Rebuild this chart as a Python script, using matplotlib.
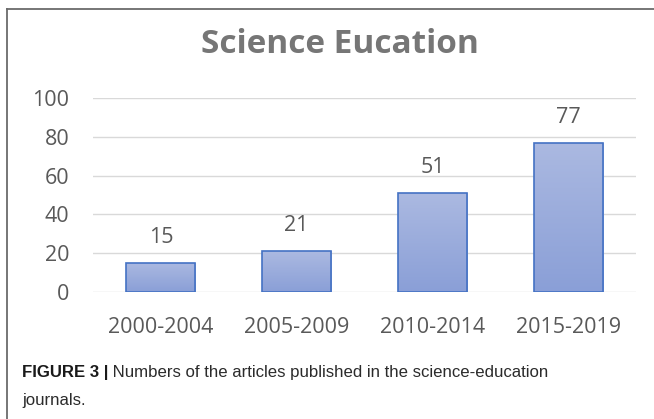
import numpy as np
import matplotlib
matplotlib.use("Agg")
import matplotlib.pyplot as plt
from matplotlib.lines import Line2D

# Article counts per five-year period
periods = ["2000-2004", "2005-2009", "2010-2014", "2015-2019"]
counts = [15, 21, 51, 77]
y_ticks = [0, 20, 40, 60, 80, 100]

title = "Science Eucation"
caption_bold = "FIGURE 3 |"
caption_rest = " Numbers of the articles published in the science-education"
caption_line2 = "journals."

W, H = 654, 419
fig = plt.figure(figsize=(W / 100, H / 100), dpi=100)
fig.patch.set_facecolor("white")

chart_font = "Open Sans"
label_color = "#595959"

ax = fig.add_axes([93 / W, 1 - 292 / H, (636 - 93) / W, (292 - 98) / H])
ax.set_xlim(-0.5, len(periods) - 0.5)
ax.set_ylim(0, 100)
ax.set_yticks(y_ticks)
ax.set_yticklabels([str(v) for v in y_ticks])
ax.set_xticks(range(len(periods)))
ax.set_xticklabels(periods)
for s in ax.spines.values():
    s.set_visible(False)
ax.tick_params(length=0, colors=label_color, labelsize=15.5)
ax.tick_params(axis="y", pad=17)
ax.tick_params(axis="x", pad=18)
for lab in ax.get_xticklabels() + ax.get_yticklabels():
    lab.set_fontfamily(chart_font)
ax.yaxis.grid(True, color="#d9d9d9", linewidth=1.0)
ax.set_axisbelow(True)

# Bars with a light-to-darker vertical gradient and a blue outline
bars = ax.bar(range(len(periods)), counts, width=0.51,
              facecolor="none", edgecolor="#4472c4", linewidth=1.2, zorder=3)
grad = np.linspace(0, 1, 256).reshape(-1, 1)
cmap = matplotlib.colors.LinearSegmentedColormap.from_list(
    "barfill", ["#8a9fd7", "#abb9e1"])
for b in bars:
    x0, y0 = b.get_x(), b.get_y()
    im = ax.imshow(grad, cmap=cmap, aspect="auto", origin="lower",
                   extent=[x0, x0 + b.get_width(), y0, y0 + b.get_height()],
                   zorder=2, interpolation="bilinear")
    im.set_clip_path(b)
ax.set_xlim(-0.5, len(periods) - 0.5)
ax.set_ylim(0, 100)

for i, v in enumerate(counts):
    ax.annotate(str(v), xy=(i, v), xytext=(0, 14.4), textcoords="offset points",
                ha="center", va="baseline", fontsize=15.5, color=label_color,
                family=chart_font, annotation_clip=False)

fig.text(340 / W, 1 - 53 / H, title, ha="center", va="baseline",
         fontsize=24, fontweight="bold", color="#767676", family=chart_font)

# Frame lines along the top and left of the figure panel
frame_kw = dict(color="#6b6b6b", linewidth=1.3, transform=fig.transFigure)
fig.add_artist(Line2D([7 / W, 1], [1 - 9 / H, 1 - 9 / H], **frame_kw))
fig.add_artist(Line2D([7 / W, 7 / W], [1 - 9 / H, 0], **frame_kw))

cap_font = "Liberation Sans"
cap_size = 12.1
t1 = fig.text(22 / W, 1 - 377 / H, caption_bold, ha="left", va="baseline",
              fontsize=cap_size, fontweight="bold", color="#1a1a1a", family=cap_font)
fig.text(22 / W, 1 - 405 / H, caption_line2, ha="left", va="baseline",
         fontsize=cap_size, color="#2b2b2b", family=cap_font)
ax.annotate(caption_rest, xy=(1, 1 - 377 / H), xycoords=(t1, "figure fraction"),
            ha="left", va="baseline", fontsize=cap_size, color="#2b2b2b",
            family=cap_font, annotation_clip=False)

fig.savefig("out.png", dpi=100, facecolor="white")
